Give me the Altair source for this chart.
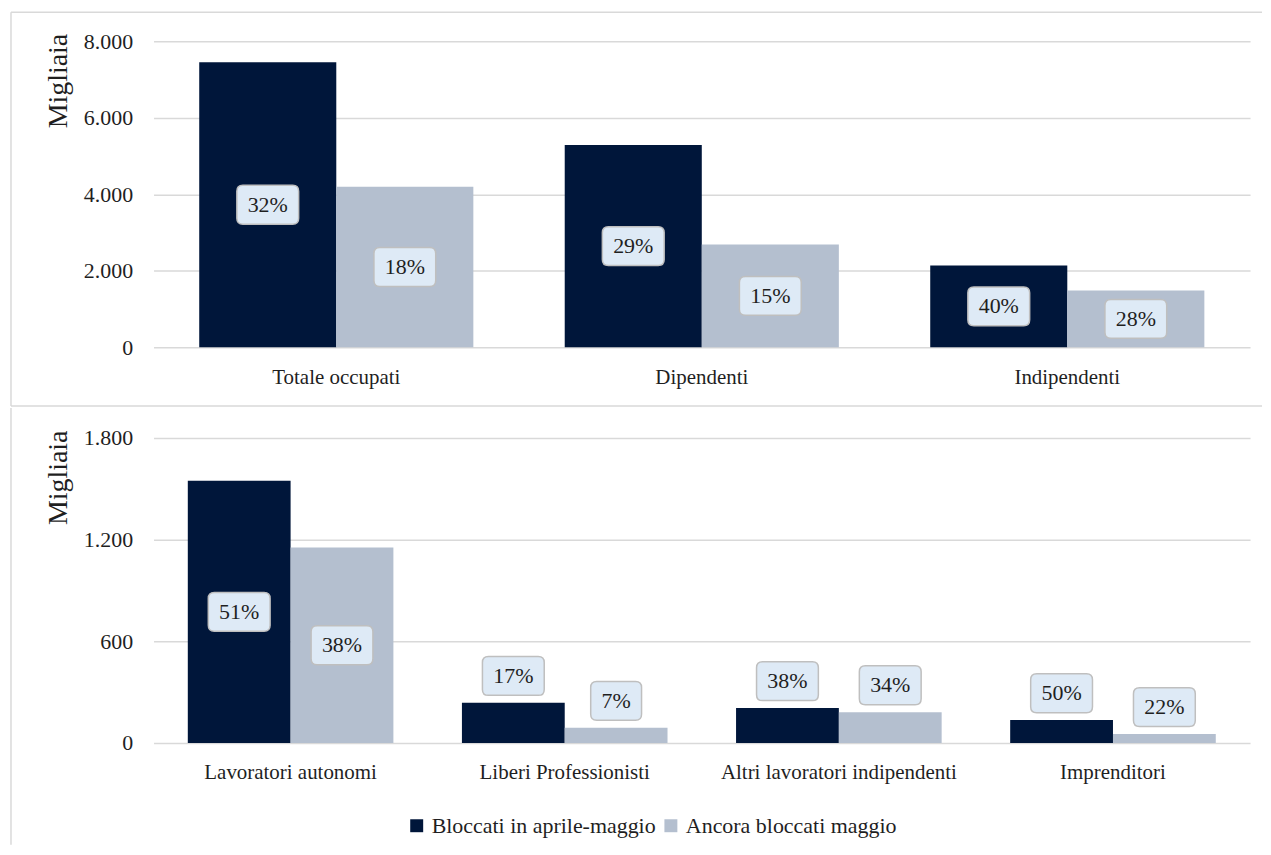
import altair as alt
import pandas as pd

FONT = "Liberation Serif, Times New Roman, DejaVu Serif, serif"
TXT = "#1f1f1f"
GRID = "#d9d9d9"
BORDER = "#d9d9d9"

series = ["Bloccati in aprile-maggio", "Ancora bloccati maggio"]
colors = ["#00163a", "#b4bfcf"]

cat_top = ["Totale occupati", "Dipendenti", "Indipendenti"]
top_bloccati = [7450, 5290, 2140]
top_ancora = [4195, 2685, 1485]
top_pct_bloccati = [32, 29, 40]
top_pct_ancora = [18, 15, 28]
top_ticks = [0, 2000, 4000, 6000, 8000]

cat_bot = ["Lavoratori autonomi", "Liberi Professionisti",
           "Altri lavoratori indipendenti", "Imprenditori"]
bot_bloccati = [1547, 237, 206, 135]
bot_ancora = [1153, 90, 182, 53]
bot_pct_bloccati = [51, 17, 38, 50]
bot_pct_ancora = [38, 7, 34, 22]
bot_ticks = [0, 600, 1200, 1800]


def make_df(cats, b, a, pb, pa):
    rows = []
    for c, v1, v2, p1, p2 in zip(cats, b, a, pb, pa):
        rows.append(dict(cat=c, serie=series[0], value=v1, pct=p1))
        rows.append(dict(cat=c, serie=series[1], value=v2, pct=p2))
    return pd.DataFrame(rows)


def box_path(w, h, r):
    return (f"M{-w + r},{-h} L{w - r},{-h} Q{w},{-h} {w},{-h + r} "
            f"L{w},{h - r} Q{w},{h} {w - r},{h} L{-w + r},{h} "
            f"Q{-w},{h} {-w},{h - r} L{-w},{-h + r} Q{-w},{-h} {-w + r},{-h} Z")


BOX_W = 62.0
BOX_SIZE = BOX_W * BOX_W
PATH_WIDE = box_path(1.0, 39 / BOX_W, 6 / (BOX_W / 2))
PATH_NARROW = box_path(51 / BOX_W, 39 / BOX_W, 6 / (BOX_W / 2))

LABEL_ABOVE_OFFSET = -27


def panel(df, cats, ticks, ymax, height, legend, rules):
    x = alt.X("cat:N", sort=cats, title=None,
              scale=alt.Scale(paddingInner=0.25, paddingOuter=0.125),
              axis=alt.Axis(labelAngle=0, domain=False, ticks=False, grid=False,
                            labelPadding=19, labelFontSize=21, labelFont=FONT,
                            labelColor=TXT, labelLimit=400))
    xo = alt.XOffset("serie:N", sort=series,
                     scale=alt.Scale(paddingInner=0, paddingOuter=0))
    yaxis = alt.Axis(values=ticks,
                     labelExpr="replace(format(datum.value, ','), ',', '.')",
                     domain=False, ticks=False, gridColor=GRID, gridWidth=1.5,
                     labelPadding=21, labelFontSize=22, labelFont=FONT,
                     labelColor=TXT, titleFont=FONT, titleFontSize=28,
                     titleFontWeight="normal", titleColor=TXT, titleX=-95,
                     titleY=-8, titleAlign="right", titleBaseline="middle",
                     titleAngle=270)
    yscale = alt.Scale(domain=[0, ymax], nice=False)

    color = alt.Color("serie:N", sort=series,
                      scale=alt.Scale(domain=series, range=colors),
                      legend=legend)

    base = alt.Chart(df)
    bars = base.mark_bar().encode(
        x=x, xOffset=xo,
        y=alt.Y("value:Q", scale=yscale, title="Migliaia", axis=yaxis),
        color=color,
    )

    lab = base.transform_calculate(
        mid="datum.value / 2",
        label="datum.pct + '%'",
        inside=f"datum.value / {ymax} > 0.16",
        wide="datum.pct >= 10",
    )

    layers = [bars]
    for inside in (True, False):
        yfield = "mid:Q" if inside else "value:Q"
        yoff = 0 if inside else LABEL_ABOVE_OFFSET
        filt = "datum.inside" if inside else "!datum.inside"
        for wide in (True, False):
            wf = "datum.wide" if wide else "!datum.wide"
            layers.append(
                lab.transform_filter(filt).transform_filter(wf).mark_point(
                    shape=PATH_WIDE if wide else PATH_NARROW, filled=True,
                    fill="#deeaf6", stroke="#bfbfbf", strokeWidth=1.5,
                    size=BOX_SIZE, opacity=1, yOffset=yoff,
                ).encode(x=x, xOffset=xo, y=alt.Y(yfield, scale=yscale))
            )
        layers.append(
            lab.transform_filter(filt).mark_text(
                font=FONT, fontSize=22, color=TXT, baseline="middle",
                align="center", yOffset=yoff,
            ).encode(x=x, xOffset=xo, y=alt.Y(yfield, scale=yscale),
                     text="label:N")
        )

    dummy = pd.DataFrame({"k": [0]})
    for (x1, x2, y1, y2) in rules:
        layers.append(
            alt.Chart(dummy).mark_rule(color=BORDER, strokeWidth=1.5).encode(
                x=alt.value(x1), x2=alt.value(x2),
                y=alt.value(y1), y2=alt.value(y2))
        )

    return alt.layer(*layers).properties(width=1100, height=height)


df_top = make_df(cat_top, top_bloccati, top_ancora, top_pct_bloccati, top_pct_ancora)
df_bot = make_df(cat_bot, bot_bloccati, bot_ancora, bot_pct_bloccati, bot_pct_ancora)

RIGHT = 1112

top = panel(df_top, cat_top, top_ticks, 8000, 307, None,
            rules=[(-143, RIGHT, -29, -29), (-143, -143, -29, 366),
                   (-143, RIGHT, 366, 366)])

legend = alt.Legend(title=None, orient="none", legendX=253, legendY=378,
                    direction="horizontal", symbolType="square",
                    symbolSize=169, symbolStrokeWidth=0, labelFont=FONT,
                    labelFontSize=22, labelColor=TXT, columnPadding=4,
                    labelOffset=4, labelLimit=500)

bottom = panel(df_bot, cat_bot, bot_ticks, 1800, 306, legend,
               rules=[(-143, -143, -30, 408)])

chart = alt.vconcat(top, bottom, spacing=0).resolve_scale(
    color="independent", x="independent", y="independent", xOffset="independent"
).properties(
    padding={"left": 2, "top": 2, "right": 0, "bottom": 0}
).configure_view(stroke=None)

chart.save("out.html", embed_options={"renderer": "svg", "actions": False})
